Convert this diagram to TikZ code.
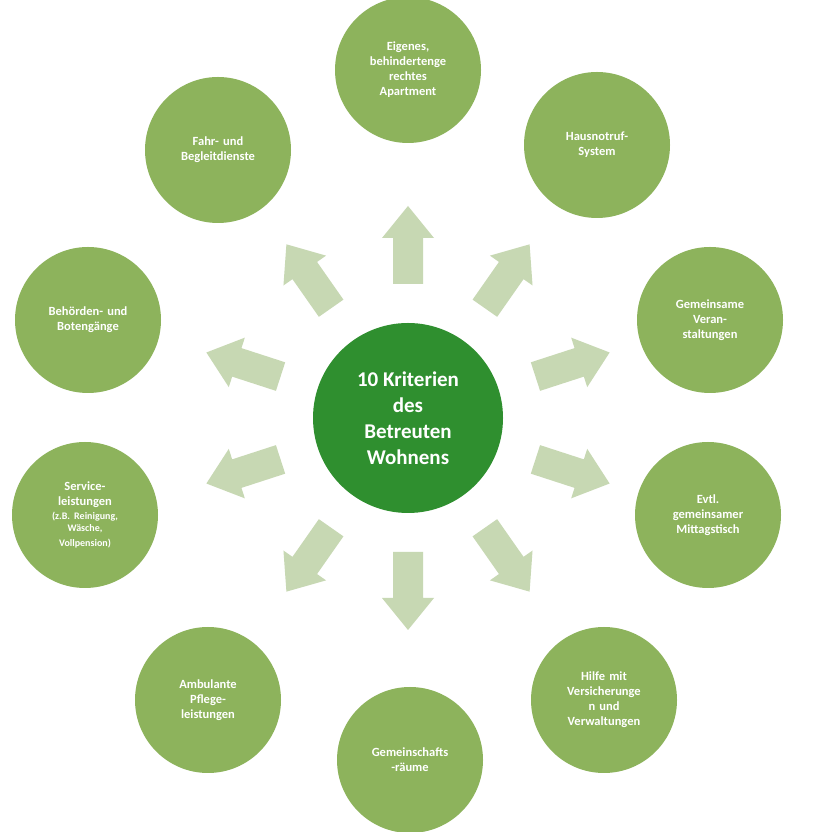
\documentclass[tikz,border=0pt]{standalone}
\usepackage{fontspec}
\setmainfont{Carlito}
\usetikzlibrary{calc}
\definecolor{outer}{HTML}{8DB35C}
\definecolor{inner}{HTML}{2F8F2F}
\definecolor{arr}{HTML}{C7D8B3}
\tikzset{
 outc/.style={circle,fill=outer,minimum size=146pt,inner sep=0pt,text width=110pt,align=center,text=white,font=\bfseries\fontsize{12.5}{15}\selectfont},
 arrowfill/.style={fill=arr}
}
\begin{document}
\begin{tikzpicture}[x=1pt,y=1pt]
\useasboundingbox (0,0) rectangle (817,832);
\fill[white] (0,0) rectangle (817,832);
\node[circle,fill=inner,minimum size=190pt,text=white,align=center,font=\bfseries\fontsize{21}{26}\selectfont] (c) at (408,414) {10 Kriterien\\des\\Betreuten\\Wohnens};
\node[outc] (n1) at (408,762) {Eigenes,\\behindertenge\\rechtes\\Apartment};
\node[outc] (n2) at (597,687) {Hausnotruf-\\System};
\node[outc] (n3) at (710,512) {Gemeinsame\\Veran-\\staltungen};
\node[outc] (n4) at (708,317) {Evtl.\\gemeinsamer\\Mittagstisch};
\node[outc] (n5) at (604,132) {Hilfe mit\\Versicherunge\\n und\\Verwaltungen};
\node[outc] (n6) at (410,72) {Gemeinschafts\\-räume};
\node[outc] (n7) at (208,132) {Ambulante\\Pflege-\\leistungen};
\node[outc] (n8) at (85,317) {Service-\\leistungen\\[2pt]{\fontsize{10}{12}\selectfont(z.B. Reinigung,\\Wäsche,\\Vollpension)}};
\node[outc] (n9) at (88,512) {Behörden- und\\Botengänge};
\node[outc] (n10) at (218,682) {Fahr- und\\Begleitdienste};
\foreach \a in {90,55,18,-18,-55,-90,-125,-162,162,125}{
  \fill[arrowfill,shift={($(c)+(\a:172)$)},rotate=\a]
    (-38,-15) -- (8,-15) -- (8,-26) -- (40,0) -- (8,26) -- (8,15) -- (-38,15) -- cycle;
}
\end{tikzpicture}
\end{document}
